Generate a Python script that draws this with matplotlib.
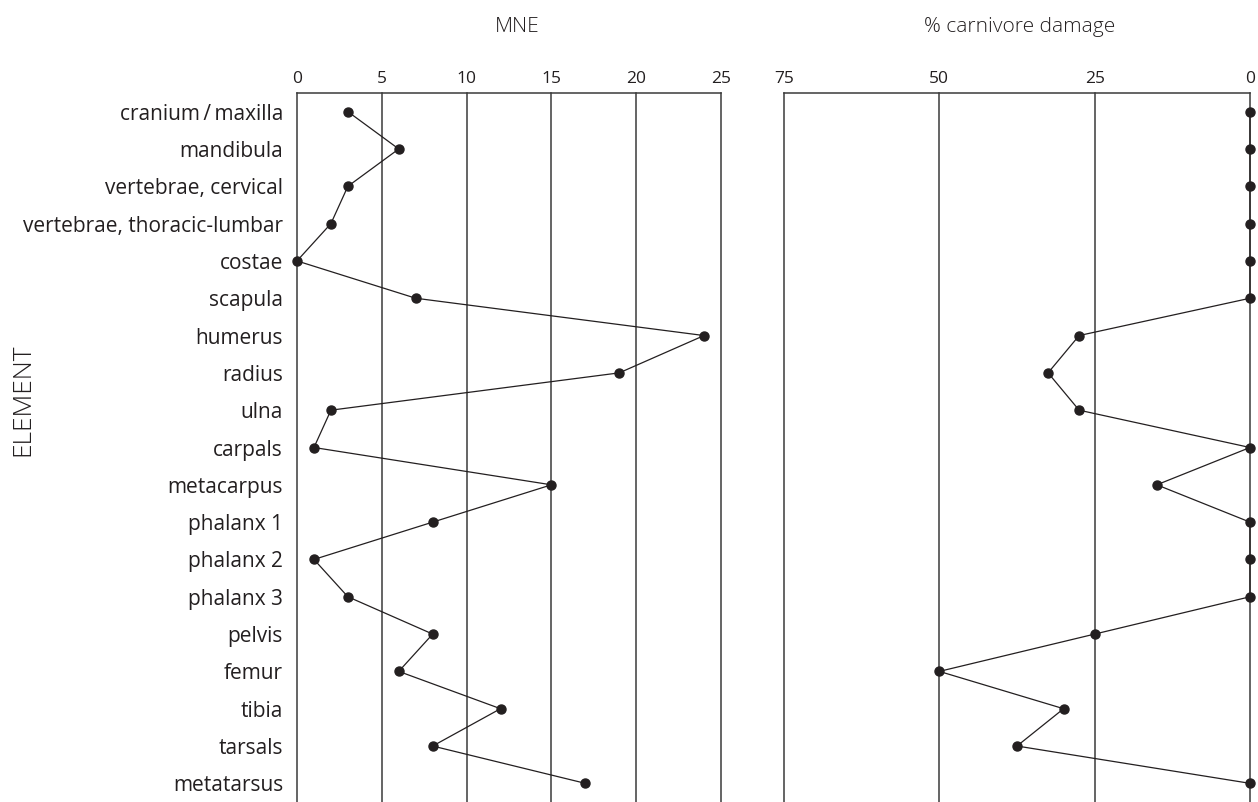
import matplotlib.pyplot as plt

plt.rcParams['font.family'] = ['Open Sans', 'DejaVu Sans']

elements = [
    "cranium\u2009/\u2009maxilla", "mandibula", "vertebrae, cervical",
    "vertebrae, thoracic-lumbar", "costae", "scapula", "humerus", "radius",
    "ulna", "carpals", "metacarpus", "phalanx 1", "phalanx 2", "phalanx 3",
    "pelvis", "femur", "tibia", "tarsals", "metatarsus",
]
mne = [3, 6, 3, 2, 0, 7, 24, 19, 2, 1, 15, 8, 1, 3, 8, 6, 12, 8, 17]
carnivore_pct = [0, 0, 0, 0, 0, 0, 27.5, 32.5, 27.5, 0, 15, 0, 0, 0,
                 25, 50, 30, 37.5, 0]
mne_ticks = [0, 5, 10, 15, 20, 25]
pct_ticks = [75, 50, 25, 0]

ink = "#231f20"
W, H = 1258, 802
fig = plt.figure(figsize=(W / 100, H / 100), dpi=100)

top = 93
ax1 = fig.add_axes([297 / W, 0, 424 / W, (H - top) / H])
ax2 = fig.add_axes([784 / W, 0, 466 / W, (H - top) / H])

rows = list(range(len(elements)))


def style(ax, ticks, xlim):
    ax.set_xlim(*xlim)
    ax.set_ylim(len(elements) - 0.5, -0.5)
    ax.set_xticks(ticks)
    ax.xaxis.tick_top()
    ax.tick_params(axis="x", length=0, pad=4, labelsize=12.5, colors=ink)
    for t in ticks:
        ax.axvline(t, color="#3a3a3a", lw=1.1, zorder=1, clip_on=False)
    ax.spines["bottom"].set_visible(False)
    ax.spines["left"].set_visible(False)
    ax.spines["right"].set_visible(False)
    ax.spines["top"].set_linewidth(1.1)
    ax.spines["top"].set_color("#3a3a3a")


style(ax1, mne_ticks, (0, 25))
ax1.set_yticks(rows)
ax1.set_yticklabels(elements)
ax1.tick_params(axis="y", length=0, pad=10, labelsize=15, colors=ink)
ax1.plot(mne, rows, color=ink, lw=0.9, marker="o", ms=6.5, zorder=3,
         clip_on=False)

style(ax2, pct_ticks, (75, 0))
ax2.set_yticks([])
ax2.plot(carnivore_pct, rows, color=ink, lw=0.9, marker="o", ms=6.5,
         zorder=3, clip_on=False)

fig.text(517 / W, 1 - 27 / H, "MNE", ha="center", va="center",
         fontsize=15, color=ink, fontweight="light")
fig.text(1020 / W, 1 - 27 / H, "% carnivore damage", ha="center",
         va="center", fontsize=15, color=ink, fontweight="light")
fig.text(23 / W, 1 - 400 / H, "ELEMENT", ha="center", va="center",
         rotation=90, fontsize=19, color=ink, fontweight="light")

fig.savefig("out.png", dpi=100)
